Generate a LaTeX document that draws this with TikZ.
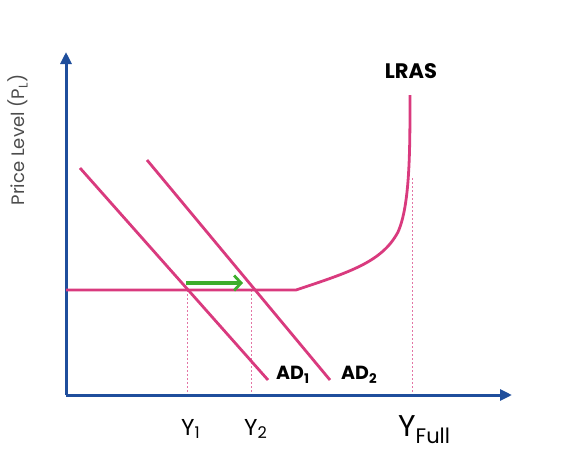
\documentclass[tikz,border=0pt]{standalone}
\usepackage{fontspec}
\setmainfont{Poppins}
\usetikzlibrary{arrows.meta}
\definecolor{axisblue}{HTML}{1F4E9C}
\definecolor{curvepink}{HTML}{D93A7E}
\definecolor{arrowgreen}{HTML}{3DAE2B}
\tikzset{
  axisline/.style={draw=axisblue,line width=3pt,-{Triangle[length=12pt,width=11pt]}},
  curve/.style={draw=curvepink,line width=2.8pt},
  guide/.style={draw=curvepink!70,line width=1pt,dash pattern=on 2pt off 2pt},
  lbl/.style={inner sep=0pt,text=black},
}
\begin{document}
\begin{tikzpicture}[x=1pt,y=-1pt]
\useasboundingbox (0,0) rectangle (562,450);
% axes
\coordinate (O) at (66,395);
\coordinate (ytop) at (66,52);
\coordinate (xend) at (512,395);
\draw[axisline] (O) -- (ytop);
\draw[axisline] (O) -- (xend);
% guides
\coordinate (e1) at (187,290);
\coordinate (e2) at (251,290);
\coordinate (ef) at (412,178);
\coordinate (b1) at (187,393);
\coordinate (b2) at (251,393);
\coordinate (bf) at (412,393);
\draw[guide] (e1) -- (b1);
\draw[guide] (e2) -- (b2);
\draw[guide] (ef) -- (bf);
% LRAS
\coordinate (ls) at (66,290);
\coordinate (lk) at (296,290);
\coordinate (lt) at (410,95);
\draw[curve] (ls) -- (lk) .. controls (350,272) and (382,262) .. (398,232)
  .. controls (410,205) and (410,150) .. (lt);
% AD curves
\coordinate (a1s) at (80,168);
\coordinate (a1e) at (268,380);
\coordinate (a2s) at (147,160);
\coordinate (a2e) at (330,380);
\draw[curve] (a1s) -- (a1e);
\draw[curve] (a2s) -- (a2e);
% green arrow
\coordinate (gs) at (186,283);
\coordinate (ge) at (243,283);
\draw[draw=arrowgreen,line width=4.2pt,-{Straight Barb[length=7pt,width=15pt,line width=2.8pt]}] (gs) -- (ge);
% labels
\node[lbl,font=\bfseries\fontsize{21}{21}\selectfont] (lras) at (411,71) {LRAS};
\node[lbl,font=\bfseries\fontsize{19}{19}\selectfont,anchor=west] (ad1) at (276,375) {AD\textsubscript{1}};
\node[lbl,font=\bfseries\fontsize{19}{19}\selectfont,anchor=west] (ad2) at (341,375) {AD\textsubscript{2}};
\node[lbl,font=\fontsize{23}{23}\selectfont,anchor=west] (y1) at (181,429) {Y\textsubscript{1}};
\node[lbl,font=\fontsize{23}{23}\selectfont,anchor=west] (y2) at (244,429) {Y\textsubscript{2}};
\node[lbl,font=\fontsize{30}{30}\selectfont,anchor=west] (yf) at (398,430) {Y\textsubscript{Full}};
\node[lbl,font=\fontsize{18}{18}\selectfont,text=black!70,rotate=90] (pl) at (18,140) {Price Level (P\textsubscript{L})};
\end{tikzpicture}
\end{document}
